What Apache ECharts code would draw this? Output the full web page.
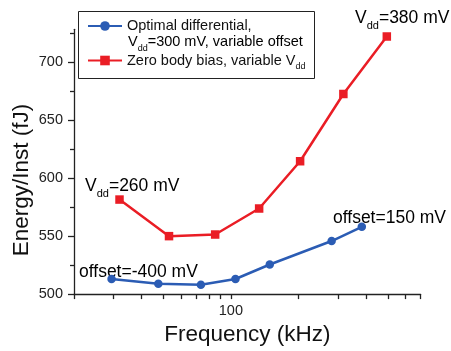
<!DOCTYPE html>
<html>
<head>
<meta charset="utf-8">
<script src="https://cdn.jsdelivr.net/npm/echarts@6/dist/echarts.min.js"></script>
<style>
    html, body { margin: 0; padding: 0; background: #fff; }
    #chart { width: 451px; height: 351px; }
</style>
</head>
<body>
<div id="chart"></div>
<script>
// Data
var blueFreq = [29.4, 47.5, 73.5, 104.8, 149, 281, 383];
var blueEnergy = [513.0, 508.9, 508.0, 513.0, 525.5, 545.7, 557.9];
var redFreq = [31.9, 53.0, 85.1, 133.6, 203.4, 317, 495];
var redEnergy = [581.4, 549.9, 551.3, 573.7, 614.4, 672.3, 721.8];

// Axis ticks
var xTickValues = [20, 30, 40, 50, 60, 70, 80, 90, 100, 200, 300, 400, 500, 600, 700];
var xLabelValues = [100];
var yMajorValues = [500, 550, 600, 650, 700];
var yMinorValues = [525, 575, 625, 675, 725];

var FONT = '"Liberation Sans", Arial, sans-serif';
var BLUE = '#2b5cb4';
var RED = '#ea1d25';

function pairs(xs, ys) {
    return xs.map(function (x, i) { return [x, ys[i]]; });
}

// rich styles for subscript "dd"
function subRich(size, lh, subSize) {
    return {
        a: { fontSize: size, fontFamily: FONT, color: '#111', lineHeight: lh, verticalAlign: 'middle' },
        s: { fontSize: subSize, fontFamily: FONT, color: '#111', lineHeight: subSize, verticalAlign: 'bottom' }
    };
}

var chart = echarts.init(document.getElementById('chart'));

chart.setOption({
    animation: false,
    textStyle: { fontFamily: FONT },
    grid: { left: 74, right: 30.4, top: 29.3, bottom: 48 },

    legend: {
        orient: 'vertical',
        left: 87,
        top: 18.5,
        padding: 0,
        itemWidth: 34,
        itemHeight: 12,
        itemGap: 19.5,
        data: ['Optimal differential', 'Zero body bias'],
        formatter: function (name) {
            if (name === 'Optimal differential') return '{a|Optimal differential,}';
            return '{a|Zero body bias, variable V}{s|dd}';
        },
        textStyle: { rich: subRich(14.5, 22, 9) }
    },

    xAxis: {
        type: 'log',
        logBase: 10,
        min: 20,
        max: 700,
        name: 'Frequency (kHz)',
        nameLocation: 'middle',
        nameGap: 26,
        nameTextStyle: { fontSize: 22.5, color: '#111', fontFamily: FONT },
        axisLine: { lineStyle: { color: '#222', width: 1.3 } },
        axisTick: { customValues: xTickValues, length: 5, lineStyle: { color: '#222', width: 1.3 } },
        axisLabel: { customValues: xLabelValues, fontSize: 14.5, color: '#222', margin: 9 },
        splitLine: { show: false },
        minorTick: { show: false }
    },

    yAxis: [{
        type: 'value',
        min: 500,
        max: 728,
        axisLine: { show: true, lineStyle: { color: '#222', width: 1.3 } },
        axisTick: { customValues: yMajorValues, length: 6, lineStyle: { color: '#222', width: 1.3 } },
        axisLabel: { customValues: yMajorValues, fontSize: 14.5, color: '#222', margin: 11 },
        splitLine: { show: false }
    }, {
        type: 'value',
        min: 500,
        max: 728,
        position: 'left',
        axisLine: { show: false },
        axisTick: { show: true, customValues: yMinorValues, length: 4, lineStyle: { color: '#222', width: 1.3 } },
        axisLabel: { show: false },
        splitLine: { show: false }
    }],

    series: [{
        name: 'Optimal differential',
        type: 'line',
        data: pairs(blueFreq, blueEnergy),
        symbol: 'circle',
        symbolSize: 8.5,
        lineStyle: { color: BLUE, width: 2.5 },
        itemStyle: { color: BLUE }
    }, {
        name: 'Zero body bias',
        type: 'line',
        data: pairs(redFreq, redEnergy),
        symbol: 'rect',
        symbolSize: 8.5,
        lineStyle: { color: RED, width: 2.5 },
        itemStyle: { color: RED }
    }],

    graphic: [
        // legend frame
        {
            type: 'rect',
            shape: { x: 78.5, y: 11.5, width: 236, height: 67 },
            style: { fill: 'none', stroke: '#222', lineWidth: 1 },
            z: 1
        },
        // second line of first legend entry
        {
            type: 'text', x: 128, y: 31,
            style: {
                text: '{a|V}{s|dd}{a|=300 mV, variable offset}',
                rich: subRich(14.5, 22, 9)
            }
        },
        // y axis title
        {
            type: 'text', x: 22, y: 180, rotation: Math.PI / 2,
            style: {
                text: 'Energy/Inst (fJ)', fontSize: 22.5, fontFamily: FONT, fill: '#111',
                textAlign: 'center', textVerticalAlign: 'middle'
            }
        },
        // annotations
        {
            type: 'text', x: 355, y: 5.5,
            style: { text: '{a|V}{s|dd}{a|=380 mV}', rich: subRich(17.5, 26, 11) }
        },
        {
            type: 'text', x: 85, y: 173.5,
            style: { text: '{a|V}{s|dd}{a|=260 mV}', rich: subRich(17.5, 26, 11) }
        },
        {
            type: 'text', x: 333, y: 205,
            style: { text: '{a|offset=150 mV}', rich: subRich(17.5, 26, 11) }
        },
        {
            type: 'text', x: 79, y: 259.5,
            style: { text: '{a|offset=-400 mV}', rich: subRich(17.5, 26, 11) }
        }
    ]
});
</script>
</body>
</html>
